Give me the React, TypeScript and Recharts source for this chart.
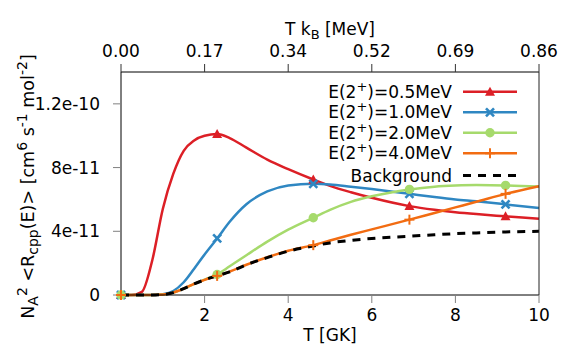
import { ComposedChart, Line, XAxis, YAxis } from "recharts";

// temperature grid [GK]
const T = [0, 0.25, 0.5, 0.75, 1, 1.25, 1.5, 1.75, 2, 2.3, 2.6, 3, 3.5, 4, 4.6, 5, 5.5, 6, 6.9, 7.5, 8, 8.5, 9.2, 10];

// rates in units of 1e-11 cm^6 s^-1 mol^-2
const e05 = [0, 0, 0.2, 2.2, 5.4, 7.6, 9.05, 9.7, 10.0, 10.1, 9.85, 9.25, 8.5, 7.9, 7.25, 6.85, 6.45, 6.1, 5.58, 5.35, 5.2, 5.08, 4.94, 4.78];
const e10 = [0, 0, 0, 0, 0.05, 0.25, 0.8, 1.65, 2.55, 3.55, 4.6, 5.7, 6.5, 6.88, 6.98, 6.94, 6.8, 6.65, 6.35, 6.15, 6.0, 5.88, 5.69, 5.46];
const e20 = [0, 0, 0, 0, 0.03, 0.15, 0.4, 0.7, 0.97, 1.29, 1.8, 2.5, 3.35, 4.1, 4.85, 5.35, 5.85, 6.2, 6.63, 6.8, 6.87, 6.9, 6.88, 6.81];
const e40 = [0, 0, 0, 0, 0.03, 0.15, 0.4, 0.7, 0.95, 1.2, 1.47, 1.9, 2.37, 2.78, 3.13, 3.42, 3.78, 4.12, 4.73, 5.15, 5.5, 5.85, 6.35, 6.83];
const background = [0, 0, 0, 0, 0.03, 0.15, 0.4, 0.7, 0.95, 1.2, 1.45, 1.9, 2.35, 2.75, 3.08, 3.27, 3.43, 3.55, 3.69, 3.78, 3.85, 3.9, 3.96, 4.0];

// points where gnuplot draws the symbols
const markerT = [0, 2.3, 4.6, 6.9, 9.2];

const xTicks = [2, 4, 6, 8, 10];
const topTicks = [0, 2, 4, 6, 8, 10];
const topTickLabels = ["0.00", "0.17", "0.34", "0.52", "0.69", "0.86"];
const yTicks = [0, 4, 8, 12];
const yTickLabels = ["0", "4e-11", "8e-11", "1.2e-10"];

const data = T.map((t, i) => ({
  T: t,
  e05: e05[i],
  e10: e10[i],
  e20: e20[i],
  e40: e40[i],
  bg: background[i],
}));

const FONT = "'DejaVu Sans', sans-serif";
const RED = "#dc1f26";
const BLUE = "#2f87c2";
const GREEN = "#a6da6c";
const ORANGE = "#f26c12";
const TICK = "#808080";

type Kind = "tri" | "cross" | "circle" | "plus";

function Marker({ kind, cx, cy, color }: { kind: Kind; cx: number; cy: number; color: string }) {
  if (kind === "tri")
    return <polygon points={`${cx},${cy - 5} ${cx + 5},${cy + 4} ${cx - 5},${cy + 4}`} fill={color} />;
  if (kind === "circle") return <circle cx={cx} cy={cy} r={4.7} fill={color} />;
  if (kind === "cross")
    return (
      <g stroke={color} strokeWidth={2.6}>
        <line x1={cx - 4} y1={cy - 4} x2={cx + 4} y2={cy + 4} />
        <line x1={cx - 4} y1={cy + 4} x2={cx + 4} y2={cy - 4} />
      </g>
    );
  return (
    <g stroke={color} strokeWidth={2}>
      <line x1={cx - 5} y1={cy} x2={cx + 5} y2={cy} />
      <line x1={cx} y1={cy - 5} x2={cx} y2={cy + 5} />
    </g>
  );
}

const makeDot = (kind: Kind, color: string) => (p: any) => {
  const key = `${kind}-${p.index}`;
  if (!markerT.includes(p.payload.T)) return <g key={key} />;
  return (
    <g key={key}>
      <Marker kind={kind} cx={p.cx} cy={p.cy} color={color} />
    </g>
  );
};

const legendRows: { label: string; color: string; kind: Kind | null; y: number }[] = [
  { label: "0.5", color: RED, kind: "tri", y: 91.7 },
  { label: "1.0", color: BLUE, kind: "cross", y: 112.3 },
  { label: "2.0", color: GREEN, kind: "circle", y: 132.8 },
  { label: "4.0", color: ORANGE, kind: "plus", y: 153.3 },
  { label: "Background", color: "#000", kind: null, y: 175.5 },
];

function LegendOverlay() {
  return (
    <svg width={581} height={349} style={{ position: "absolute", left: 0, top: 0, pointerEvents: "none" }}>
      {legendRows.map((r) => (
        <g key={r.label}>
          <text x={452} y={r.y + 6} textAnchor="end" fontSize={17} fontFamily={FONT} fill="#000">
            {r.kind ? (
              <>
                <tspan>E(2</tspan>
                <tspan fontSize={13} dy={-7}>+</tspan>
                <tspan dy={7}>{`)=${r.label}MeV`}</tspan>
              </>
            ) : (
              r.label
            )}
          </text>
          {r.kind ? (
            <>
              <line x1={463} x2={517} y1={r.y} y2={r.y} stroke={r.color} strokeWidth={2.5} />
              <Marker kind={r.kind} cx={490} cy={r.y} color={r.color} />
            </>
          ) : (
            <line x1={463} x2={517} y1={r.y} y2={r.y} stroke="#000" strokeWidth={3} strokeDasharray="8 7" />
          )}
        </g>
      ))}
    </svg>
  );
}

const tickStyle = { fontSize: 17, fill: "#000", fontFamily: FONT };

export default function App() {
  return (
    <div style={{ position: "absolute", left: 0, top: 0, width: 581, height: 349, background: "#fff" }}>
      <ComposedChart width={581} height={349} data={data} margin={{ top: 0, right: 0, bottom: 0, left: 0 }}>
        <XAxis
          xAxisId="b"
          dataKey="T"
          type="number"
          domain={[0, 10]}
          ticks={xTicks}
          height={54}
          tickSize={8}
          tickMargin={6}
          axisLine={{ stroke: "#000" }}
          tickLine={{ stroke: TICK }}
          tick={tickStyle}
          label={({ viewBox }: any) => (
            <text x={viewBox.x + viewBox.width / 2} y={viewBox.y + 45.5} textAnchor="middle" fontSize={17} fontFamily={FONT} fill="#000">
              T [GK]
            </text>
          )}
        />
        <XAxis
          xAxisId="t"
          dataKey="T"
          orientation="top"
          type="number"
          domain={[0, 10]}
          ticks={topTicks}
          height={72}
          tickSize={8}
          tickMargin={7}
          axisLine={{ stroke: "#000" }}
          tickLine={{ stroke: "#333" }}
          tick={tickStyle}
          tickFormatter={(v: number) => topTickLabels[topTicks.indexOf(v)]}
          label={({ viewBox }: any) => (
            <text x={viewBox.x + viewBox.width / 2} y={viewBox.y + 35} textAnchor="middle" fontSize={17} fontFamily={FONT} fill="#000">
              <tspan>T k</tspan>
              <tspan fontSize={13} dy={4}>B</tspan>
              <tspan dy={-4}> [MeV]</tspan>
            </text>
          )}
        />
        <YAxis
          yAxisId="l"
          type="number"
          domain={[0, 14]}
          ticks={yTicks}
          width={121}
          tickSize={8}
          tickMargin={13}
          axisLine={{ stroke: "#000" }}
          tickLine={{ stroke: TICK }}
          tick={tickStyle}
          tickFormatter={(v: number) => yTickLabels[yTicks.indexOf(v)]}
          label={({ viewBox }: any) => {
            const x = viewBox.x + 33.5;
            const y = viewBox.y + viewBox.height / 2 + 3;
            return (
              <text x={x} y={y} transform={`rotate(-90 ${x} ${y})`} textAnchor="middle" fontSize={17.5} fontFamily={FONT} fill="#000">
                <tspan>N</tspan>
                <tspan fontSize={14} dy={4}>A</tspan>
                <tspan fontSize={14} dy={-11}>2</tspan>
                <tspan dy={7}> &lt;R</tspan>
                <tspan fontSize={14} dy={4}>cpp</tspan>
                <tspan dy={-4}>(E)&gt; [cm</tspan>
                <tspan fontSize={14} dy={-7}>6</tspan>
                <tspan dy={7}> s</tspan>
                <tspan fontSize={14} dy={-7}>-1</tspan>
                <tspan dy={7}> mol</tspan>
                <tspan fontSize={14} dy={-7}>-2</tspan>
                <tspan dy={7}>]</tspan>
              </text>
            );
          }}
        />
        <YAxis
          yAxisId="r"
          orientation="right"
          type="number"
          domain={[0, 14]}
          ticks={yTicks}
          width={42}
          tickSize={8}
          axisLine={{ stroke: "#222" }}
          tickLine={{ stroke: TICK }}
          tickFormatter={() => ""}
        />
        <Line xAxisId="b" yAxisId="l" type="monotone" dataKey="e05" stroke={RED} strokeWidth={2.5} dot={makeDot("tri", RED)} activeDot={false} isAnimationActive={false} />
        <Line xAxisId="b" yAxisId="l" type="monotone" dataKey="e10" stroke={BLUE} strokeWidth={2.5} dot={makeDot("cross", BLUE)} activeDot={false} isAnimationActive={false} />
        <Line xAxisId="b" yAxisId="l" type="monotone" dataKey="e20" stroke={GREEN} strokeWidth={2.5} dot={makeDot("circle", GREEN)} activeDot={false} isAnimationActive={false} />
        <Line xAxisId="b" yAxisId="l" type="monotone" dataKey="e40" stroke={ORANGE} strokeWidth={2.5} dot={makeDot("plus", ORANGE)} activeDot={false} isAnimationActive={false} />
        <Line xAxisId="b" yAxisId="l" type="monotone" dataKey="bg" stroke="#000" strokeWidth={3} strokeDasharray="8 7" dot={false} activeDot={false} isAnimationActive={false} />
      </ComposedChart>
      <LegendOverlay />
    </div>
  );
}
